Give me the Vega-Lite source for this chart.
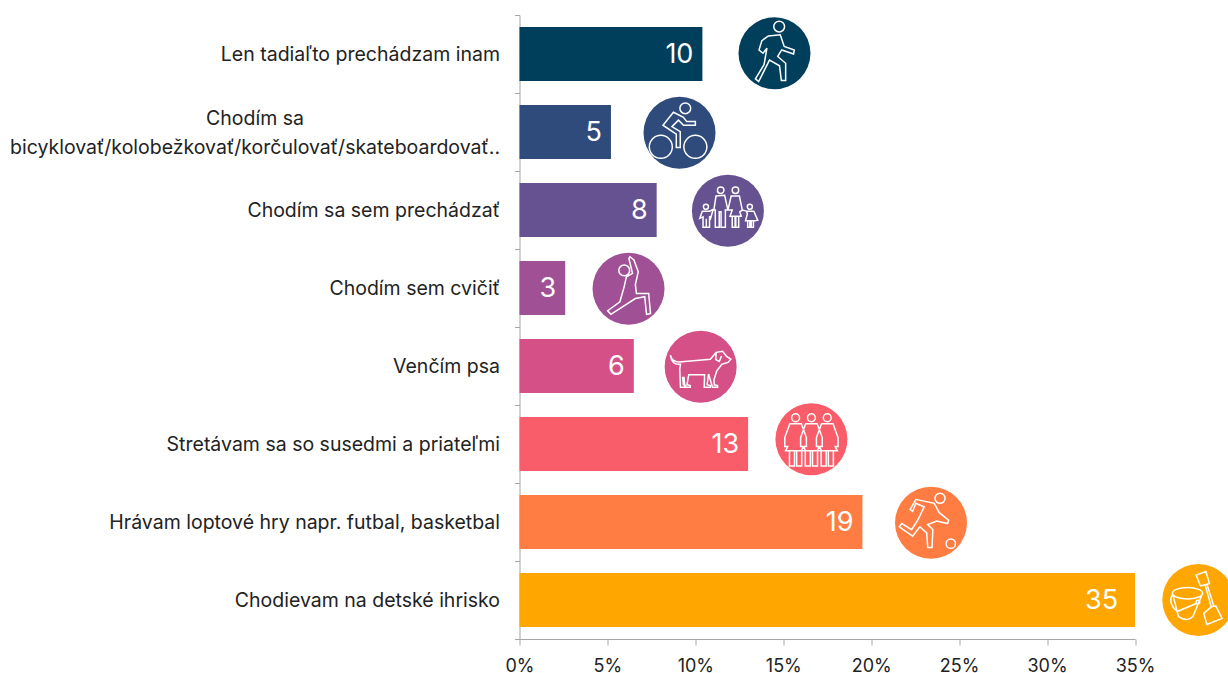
{"$schema":"https://vega.github.io/schema/vega-lite/v6.json","width":615.5,"height":624,"autosize":"none","padding":{"left":519.5,"top":15,"right":92.5,"bottom":34},"background":"white","config":{"view":{"stroke":null}},"data":{"values":[
{"a":"Len tadiaľto prechádzam inam","v":10.4,"n":10,"tx":10.4,"ix":14.5,"iy":0.49},
{"a":"Chodím sa bicyklovať/kolobežkovať/korčulovať/skateboardovať..","v":5.2,"n":5,"tx":5.2,"ix":9.1,"iy":1.51,"lx":-15.04,"lt":"Chodím sa|bicyklovať/kolobežkovať/korčulovať/skateboardovať.."},
{"a":"Chodím sa sem prechádzať","v":7.8,"n":8,"tx":7.8,"ix":11.85,"iy":2.51},
{"a":"Chodím sem cvičiť","v":2.6,"n":3,"tx":2.6,"ix":6.2,"iy":3.51},
{"a":"Venčím psa","v":6.5,"n":6,"tx":6.5,"ix":10.3,"iy":4.51},
{"a":"Stretávam sa so susedmi a priateľmi","v":13,"n":13,"tx":13,"ix":16.6,"iy":5.44},
{"a":"Hrávam loptové hry napr. futbal, basketbal","v":19.5,"n":19,"tx":19.5,"ix":23.4,"iy":6.51},
{"a":"Chodievam na detské ihrisko","v":35,"n":35,"tx":34.55,"ix":38.6,"iy":7.5}]},
"encoding":{"color":{"field":"a","type":"nominal","sort":null,"legend":null,"scale":{"range":["#003f5c","#2f4b7c","#665191","#a05195","#d45087","#f95d6a","#ff7c43","#ffa600"]}}},
"resolve":{"scale":{"y":"independent"}},
"layer":[
{"encoding":{"y":{"field":"a","type":"nominal","sort":null,"title":null,"scale":{"paddingInner":0,"paddingOuter":0},"axis":{"tickBand":"extent","domainColor":"#a6a6a6","tickColor":"#a6a6a6","tickSize":5,"labelFont":"Inter","labelFontSize":19.5,"labelColor":"#222222","labelLimit":520,"labelPadding":15,
"labelExpr":"indexof(datum.label,'bicyklovať')>0?'':datum.label"}}},
"layer":[
{"mark":{"type":"bar","clip":false,"height":{"band":0.69}},"encoding":{"x":{"field":"v","type":"quantitative","title":null,"scale":{"domain":[0,35],"nice":false},"axis":{"values":[0,5,10,15,20,25,30,35],"format":".0f","labelExpr":"datum.label+'%'","grid":false,"labelFlush":false,"domainColor":"#a6a6a6","tickColor":"#a6a6a6","tickSize":6,"labelFont":"Inter","labelFontSize":18,"labelColor":"#222222","labelPadding":12}}}},
{"mark":{"type":"text","align":"right","dx":-9,"dy":1,"font":"Inter","fontSize":27,"color":"white"},"encoding":{"x":{"field":"tx","type":"quantitative"},"text":{"field":"n"},"color":{"value":"white"}}},
{"transform":[{"filter":"isValid(datum.lx)"}],"mark":{"type":"text","align":"center","baseline":"middle","dy":-13,"lineBreak":"|","lineHeight":29,"font":"Inter","fontSize":19.5,"clip":false},"encoding":{"x":{"field":"lx","type":"quantitative"},"text":{"field":"lt"},"color":{"value":"#222222"}}}
]},
{"encoding":{"y":{"field":"iy","type":"quantitative","scale":{"domain":[8,0],"nice":false,"zero":false},"axis":null},"x":{"field":"ix","type":"quantitative"}},
"layer":[
{"mark":{"type":"point","filled":true,"size":5184,"opacity":1,"clip":false}},
{"mark":{"type":"point","filled":false,"size":5184,"opacity":1,"strokeWidth":1.5,"clip":false},"encoding":{"color":{"value":"white"},"shape":{"field":"a","type":"nominal","sort":null,"legend":null,"scale":{"range":[
"M0.28 -0.74a0.15 0.15 0 1 0 -0.3 0a0.15 0.15 0 1 0 0.3 0ZM-0.17 -0.48L0.16 -0.51L0.27 -0.19L0.55 -0.09L0.53 0.02L0.2 -0.09L0.09 0.09L0.31 0.28L0.31 0.76L0.19 0.76L0.14 0.35L-0.14 0.19L-0.44 0.79L-0.53 0.71L-0.29 0.32L-0.21 -0.14L-0.32 0L-0.43 -0.09L-0.35 -0.35Z",
"M0.31 -0.68a0.15 0.15 0 1 0 -0.3 0a0.15 0.15 0 1 0 0.3 0ZM-0.2 0.39a0.32 0.32 0 1 0 -0.64 0a0.32 0.32 0 1 0 0.64 0ZM0.76 0.39a0.32 0.32 0 1 0 -0.64 0a0.32 0.32 0 1 0 0.64 0ZM-0.17 -0.57L0.11 -0.43L0.2 -0.31L0.44 -0.31L0.44 -0.21L0.11 -0.21L-0.03 -0.35L-0.21 -0.17L0.02 -0.03L0.02 0.41L-0.09 0.41L-0.09 0.04L-0.46 -0.21Z",
"M-0.11 -0.57a0.09 0.09 0 1 0 -0.18 0a0.09 0.09 0 1 0 0.18 0ZM0.3 -0.57a0.09 0.09 0 1 0 -0.18 0a0.09 0.09 0 1 0 0.18 0ZM-0.39 -0.02L-0.33 -0.41L-0.09 -0.43L0 -0.02L-0.07 -0.02L-0.07 0.46L-0.19 0.46L-0.19 0.03L-0.24 0.03L-0.24 0.46L-0.35 0.46L-0.35 -0.02ZM0 -0.02L0.09 -0.41L0.32 -0.41L0.4 -0.02L0.33 0.03L0.37 0.15L0.06 0.15L0.12 -0.02ZM0.12 0.15L0.12 0.46L0.2 0.46L0.2 0.15M0.22 0.15L0.22 0.46L0.3 0.46L0.3 0.15M-0.54 -0.11a0.07 0.07 0 1 0 -0.14 0a0.07 0.07 0 1 0 0.14 0ZM-0.78 0.21L-0.71 0.01L-0.51 0.01L-0.41 -0.04L-0.48 0.21L-0.51 0.15L-0.51 0.46L-0.69 0.46L-0.69 0.17ZM-0.6 0.46L-0.6 0.22M0.68 -0.11a0.07 0.07 0 1 0 -0.14 0a0.07 0.07 0 1 0 0.14 0ZM0.52 0.01L0.72 0.01L0.83 0.26L0.75 0.28L0.49 0.28L0.54 0.09ZM0.55 0.28L0.55 0.46L0.61 0.46L0.61 0.28M0.65 0.28L0.65 0.46L0.71 0.46L0.71 0.28M0.39 -0.02L0.52 0.01",
"M0.03 -0.51a0.15 0.15 0 1 0 -0.3 0a0.15 0.15 0 1 0 0.3 0ZM0.04 -0.89L0.15 -0.8L0.27 -0.47L0.19 -0.12L0.22 0.13L0.56 0.13L0.61 0.69L0.5 0.71L0.45 0.22L0.19 0.27L-0.49 0.71L-0.58 0.61L-0.24 0.36L-0.12 -0.06L-0.06 -0.33L0.11 -0.43L0.01 -0.84Z",
"M-0.84 -0.32Q-0.8 -0.14 -0.6 -0.13L0.27 -0.21L0.43 -0.4L0.61 -0.43L0.73 -0.28L0.84 -0.21L0.76 -0.12L0.59 -0.07L0.45 0.11L0.37 0.36L0.38 0.5L0.47 0.52L0.47 0.57L0.33 0.57L0.22 0.2L0.18 0.5L0.27 0.52L0.27 0.57L0.1 0.57L0.11 0.22L-0.33 0.22L-0.38 0.5L-0.29 0.52L-0.29 0.57L-0.44 0.57L-0.46 0.3L-0.5 0.3L-0.48 0.5L-0.42 0.52L-0.42 0.57L-0.56 0.57L-0.58 0.06L-0.56 -0.07Q-0.8 -0.04 -0.84 -0.32ZM0.43 -0.4L0.42 -0.2L0.52 -0.15L0.58 -0.3",
"M-0.33 -0.6a0.11 0.11 0 1 0 -0.22 0a0.11 0.11 0 1 0 0.22 0ZM0.11 -0.6a0.11 0.11 0 1 0 -0.22 0a0.11 0.11 0 1 0 0.22 0ZM0.55 -0.6a0.11 0.11 0 1 0 -0.22 0a0.11 0.11 0 1 0 0.22 0ZM-0.6 -0.43L-0.28 -0.43L-0.14 -0.05L-0.14 0.2L-0.22 0.2L-0.16 0.32L-0.72 0.32L-0.66 0.2L-0.74 0.2L-0.74 -0.05ZM-0.61 0.32L-0.61 0.74L-0.47 0.74L-0.47 0.32M-0.41 0.32L-0.41 0.74L-0.27 0.74L-0.27 0.32M-0.16 -0.43L0.16 -0.43L0.3 -0.05L0.3 0.2L0.22 0.2L0.28 0.32L-0.28 0.32L-0.22 0.2L-0.3 0.2L-0.3 -0.05ZM-0.17 0.32L-0.17 0.74L-0.03 0.74L-0.03 0.32M0.03 0.32L0.03 0.74L0.17 0.74L0.17 0.32M0.28 -0.43L0.6 -0.43L0.74 -0.05L0.74 0.2L0.66 0.2L0.72 0.32L0.16 0.32L0.22 0.2L0.14 0.2L0.14 -0.05ZM0.27 0.32L0.27 0.74L0.41 0.74L0.41 0.32M0.47 0.32L0.47 0.74L0.61 0.74L0.61 0.32",
"M0.39 -0.68a0.14 0.14 0 1 0 -0.28 0a0.14 0.14 0 1 0 0.28 0ZM0.68 0.58a0.13 0.13 0 1 0 -0.26 0a0.13 0.13 0 1 0 0.26 0ZM-0.42 -0.65L0.09 -0.54L0.23 -0.28L0.49 -0.07L0.46 0.02L0.16 -0.05L-0.09 0.05L0.05 0.19L0.03 0.69L-0.09 0.69L-0.12 0.28L-0.31 0.11L-0.51 0.37L-0.88 0.11L-0.81 0.02L-0.54 0.19L-0.37 -0.07L-0.19 -0.44L-0.42 -0.54L-0.51 -0.32L-0.58 -0.37Z",
"M0.12 -0.19a0.42 0.16 0 1 0 -0.84 0a0.42 0.16 0 1 0 0.84 0ZM-0.72 -0.19L-0.55 0.46Q-0.3 0.62 -0.15 0.46L0.12 -0.19M-0.73 -0.14Q-0.85 0.1 -0.59 0.32L-0.04 0.09M0.04 0.06a0.05 0.05 0 1 0 -0.1 0a0.05 0.05 0 1 0 0.1 0ZM-0.06 -0.69L0.21 -0.79L0.31 -0.46L0.06 -0.39ZM0.19 -0.42L0.36 0.19M0.24 -0.44L0.43 0.17M0.36 0.19L0.49 0.17L0.66 0.51L0.24 0.68L0.15 0.37Z"
]}}}}
]}
]}
